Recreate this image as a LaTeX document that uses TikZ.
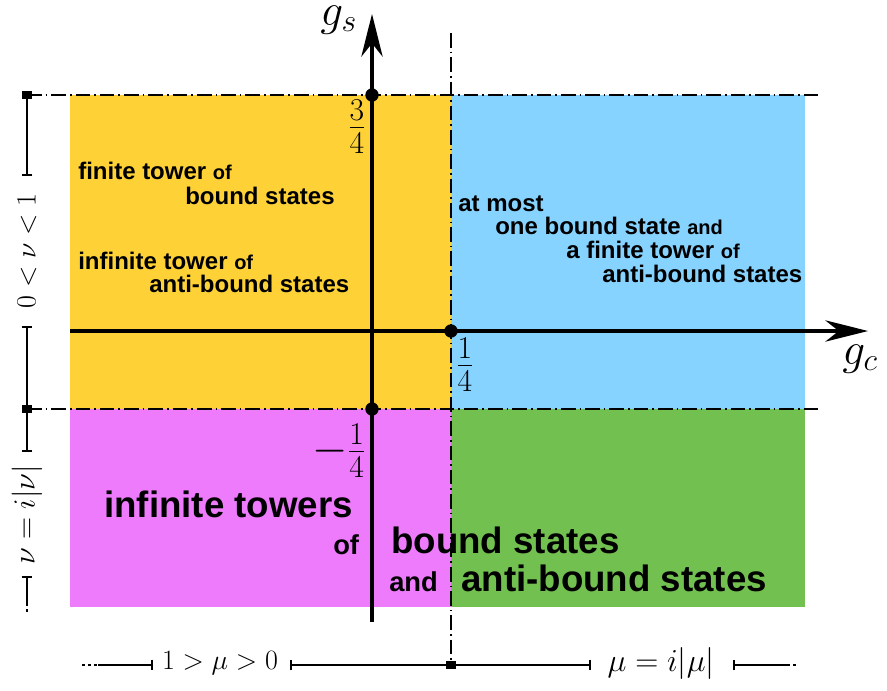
\RequirePackage{fix-cm}
\documentclass[tikz,border=0pt]{standalone}
\usepackage{fontspec}
\setmainfont{Liberation Sans}
\usetikzlibrary{arrows.meta}
\definecolor{cyel}{RGB}{254,210,55}
\definecolor{cblu}{RGB}{135,211,255}
\definecolor{cmag}{RGB}{238,122,252}
\definecolor{cgrn}{RGB}{114,192,80}
\newcommand\regtxt{\fontsize{18}{20}\selectfont\bfseries}
\newcommand\subtxt{\fontsize{15}{17}\selectfont\bfseries}
\newcommand\bigtxt{\fontsize{27.5}{30}\selectfont\bfseries}
\newcommand\midtxt{\fontsize{20.5}{23}\selectfont\bfseries}
\newcommand\mathbig{\fontsize{34}{40}\selectfont}
\begin{document}
\begin{tikzpicture}[x=0.75pt,y=-0.75pt,
  dimline/.style={line width=1.4pt},
  dimtip/.style={-{Bar[width=8pt,line width=1.2pt]}},
  dashdot/.style={line width=1.3pt, dash pattern=on 11pt off 3pt on 1.2pt off 3pt},
  axisline/.style={line width=2.4pt, -{Stealth[length=32pt,width=16pt,inset=10pt]}},
  dotm/.style={circle, fill=black, inner sep=0pt, minimum size=10pt},
  sqm/.style={rectangle, fill=black, inner sep=0pt, minimum width=7pt, minimum height=6.5pt},
  lbl/.style={inner sep=0pt, anchor=base west},
  dimlbl/.style={inner sep=0pt, font=\fontsize{21}{24}\selectfont}]
\useasboundingbox (0,0) rectangle (887,690);
% regions
\fill[cyel] (70,95) rectangle (451,409);
\fill[cblu] (451,95) rectangle (805,409);
\fill[cmag] (70,409) rectangle (451,607);
\fill[cgrn] (451,409) rectangle (805,607);
% coordinates
\coordinate (tl) at (27,95);
\coordinate (tr) at (818,95);
\coordinate (ml) at (27,409);
\coordinate (mr) at (818,409);
\coordinate (vt) at (451,33);
\node[sqm] (bm) at (451,665) {};
\node[sqm] (lt) at (27,95) {};
\node[sqm] (lm) at (27,409) {};
% dash-dot lines
\draw[dashdot] (tl) -- (tr);
\draw[dashdot] (ml) -- (mr);
\draw[dashdot] (vt) -- (bm.center);
% axes
\coordinate (ys) at (372,622);
\coordinate (ye) at (372,14);
\coordinate (xs) at (70,331);
\coordinate (xe) at (868,331);
\draw[axisline] (ys) -- (ye);
\draw[axisline] (xs) -- (xe);
\node[lbl] (gs) at (320,25) {\mathbig$g_s$};
\node[lbl] (gc) at (842,364) {\mathbig$g_c$};
\node[dotm] (d1) at (372,95) {};
\node[dotm] (d2) at (451,331) {};
\node[dotm] (d3) at (372,409) {};
\node[inner sep=0pt] (f34) at (357,127) {\mathbig$\frac{3}{4}$};
\node[inner sep=0pt] (f14) at (465,365) {\mathbig$\frac{1}{4}$};
\node[inner sep=0pt] (fm14) at (339,451) {\mathbig$-\frac{1}{4}$};
% left dimension bar
\coordinate (la) at (27,176);
\node[dimlbl, rotate=90] (nu1) at (27,251) {$0<\nu<1$};
\coordinate (lb) at (27,326);
\coordinate (lc) at (27,452);
\node[dimlbl, rotate=90, font=\fontsize{23}{26}\selectfont] (nu2) at (27,515) {$\nu=i|\nu|$};
\coordinate (ld) at (27,576);
\coordinate (le) at (27,603);
\coordinate (lf) at (27,612);
\draw[dimline,dimtip] (lt.center) -- (la);
\draw[dimline,dimtip] (lm.center) -- (lb);
\draw[dimline,dimtip] (lm.center) -- (lc);
\draw[dimline,dimtip] (le) -- (ld);
\draw[dimline,dash pattern=on 2.5pt off 2pt] (le) -- (lf);
% bottom dimension bar
\coordinate (ba) at (82,665);
\coordinate (bb) at (98,665);
\coordinate (bc) at (153,665);
\node[dimlbl] (mu1) at (220,663) {$1>\mu>0$};
\coordinate (bd) at (290,665);
\coordinate (be) at (591,665);
\node[dimlbl, font=\fontsize{24}{27}\selectfont] (mu2) at (661,663) {$\mu=i|\mu|$};
\coordinate (bf) at (733,665);
\coordinate (bg) at (787,665);
\coordinate (bh) at (798,665);
\draw[dimline,dash pattern=on 2.5pt off 2pt] (ba) -- (bb);
\draw[dimline,dimtip] (bb) -- (bc);
\draw[dimline,dimtip] (bm.center) -- (bd);
\draw[dimline,dimtip] (bm.center) -- (be);
\draw[dimline,dimtip] (bg) -- (bf);
\draw[dimline,dash pattern=on 2.5pt off 2pt] (bg) -- (bh);
\node[sqm] at (bm) {};
\node[sqm] at (lt) {};
\node[sqm] at (lm) {};
% texts
\node[lbl] (t1) at (78,179) {\regtxt finite tower {\subtxt of}};
\node[lbl] (t2) at (185,204) {\regtxt bound states};
\node[lbl] (t3) at (78,269) {\regtxt infinite tower {\subtxt of}};
\node[lbl] (t4) at (149,292) {\regtxt anti-bound states};
\node[lbl] (r1) at (458,211) {\regtxt at most};
\node[lbl] (r2) at (495,234) {\regtxt one bound state {\subtxt and}};
\node[lbl] (r3) at (566,258) {\regtxt a finite tower {\subtxt of}};
\node[lbl] (r4) at (602,282) {\regtxt anti-bound states};
\node[lbl] (b1) at (104,517) {\bigtxt infinite towers};
\node[lbl] (b2) at (333,554) {\midtxt of};
\node[lbl] (b3) at (391,553) {\bigtxt bound states};
\node[lbl] (b4) at (389,591) {\midtxt and};
\node[lbl] (b5) at (461,591) {\bigtxt anti-bound states};
\end{tikzpicture}
\end{document}
